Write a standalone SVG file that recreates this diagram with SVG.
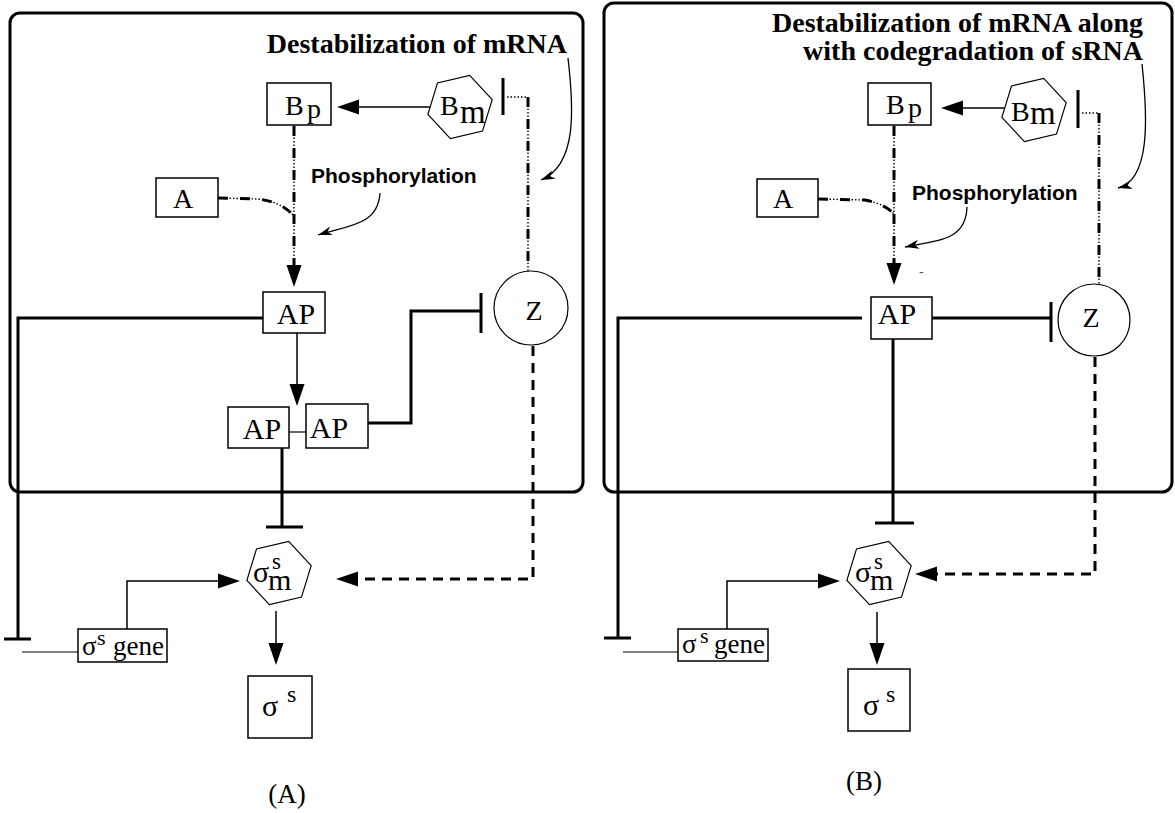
<svg xmlns="http://www.w3.org/2000/svg" width="1175" height="813" viewBox="0 0 1175 813">
<style>
.frame{fill:none;stroke:#000;stroke-width:3}
.box{fill:#fff;stroke:#000;stroke-width:1.5}
.hex{fill:#fff;stroke:#000;stroke-width:1.2}
.circ{fill:#fff;stroke:#000;stroke-width:1.2}
.t{font-family:'Liberation Serif','Times New Roman',serif;fill:#000}
.title{font-family:'Liberation Serif','Times New Roman',serif;font-weight:bold;font-size:28px;fill:#000}
.phos{font-family:'Liberation Sans',Arial,sans-serif;font-weight:bold;font-size:21px;fill:#000}
.thick{fill:none;stroke:#000;stroke-width:3}
.thin{fill:none;stroke:#000;stroke-width:1.5}
.hair{fill:none;stroke:#000;stroke-width:1.2}
.dash{fill:none;stroke:#000;stroke-width:3;stroke-dasharray:10 7}
.ddA{fill:none;stroke:#000;stroke-width:3;stroke-dasharray:10 12}
.ddB{fill:none;stroke:#000;stroke-width:1.4;stroke-dasharray:0 11.5 1.5 2 1.5 2 1.5 2}
.dots{fill:none;stroke:#000;stroke-width:1.4;stroke-dasharray:1.5 2}
.curve{fill:none;stroke:#000;stroke-width:1.3}
</style>
<defs>
<marker id="ah" markerUnits="userSpaceOnUse" markerWidth="22" markerHeight="15" refX="0" refY="7.5" orient="auto" overflow="visible">
<path d="M0,0 L22,7.5 L0,15 z" fill="#000"/>
</marker>
<marker id="barb" markerUnits="userSpaceOnUse" markerWidth="14" markerHeight="9" refX="14" refY="4.5" orient="auto" overflow="visible">
<path d="M0,0 L14,4.5 L0,9 L4,4.5 z" fill="#000"/>
</marker>
</defs>

<g id="frameA"><rect class="frame" x="10" y="13" width="573" height="479" rx="10"/></g>
<g id="frameB"><rect class="frame" x="604" y="3" width="568" height="489" rx="10"/></g>

<g id="connectors">
<!-- Panel A -->
<path class="thin" d="M430,107 L359,107" marker-end="url(#ah)"/>
<path class="thick" d="M503,78 L503,115"/>
<path class="dots" d="M507,97 L527,97"/>
<path class="ddA" d="M528,97 L528,272"/>
<path class="ddB" d="M528,97 L528,272"/>
<path class="curve" d="M568,58 C574,110 577,165 541,180" marker-end="url(#barb)"/>
<path class="ddA" d="M294,126 L294,265" marker-end="url(#ah)"/>
<path class="ddB" d="M294,126 L294,265"/>
<path class="ddA" d="M218,198 L258,199 Q282,202 294,216"/>
<path class="ddB" d="M218,198 L258,199 Q282,202 294,216"/>
<path class="curve" d="M380,193 C378,225 350,225 318,235" marker-end="url(#barb)"/>
<path class="thick" d="M263,318 L18,318 L18,639"/>
<path class="thick" d="M4,639 L31,639"/>
<path class="thin" d="M297,333 L297,384" marker-end="url(#ah)"/>
<path class="hair" d="M289,432 L306,432"/>
<path class="thick" d="M368,423 L411,423 L411,311 L481,311"/>
<path class="thick" d="M481,293 L481,333"/>
<path class="dash" d="M533,346 L533,579 L358,579" marker-end="url(#ah)"/>
<path class="thick" d="M282,448 L282,527"/>
<path class="thick" d="M266,527 L303,527"/>
<path class="thin" d="M127,629 L127,581 L218,581" marker-end="url(#ah)"/>
<path class="hair" d="M78,652 L22,652"/>
<path class="thin" d="M276,611 L276,643" marker-end="url(#ah)"/>
<!-- Panel B -->
<path class="thin" d="M1004,108 L963,108" marker-end="url(#ah)"/>
<path class="thick" d="M1078,90 L1078,128"/>
<path class="dots" d="M1082,113 L1098,113"/>
<path class="ddA" d="M1099,113 L1099,284"/>
<path class="ddB" d="M1099,113 L1099,284"/>
<path class="curve" d="M1142,64 C1148,120 1150,180 1118,188" marker-end="url(#barb)"/>
<path class="ddA" d="M894,126 L894,263" marker-end="url(#ah)"/>
<path class="ddB" d="M894,126 L894,263"/>
<path class="ddA" d="M818,199 L865,200 Q885,204 894,214"/>
<path class="ddB" d="M818,199 L865,200 Q885,204 894,214"/>
<path class="curve" d="M967,207 C966,240 940,240 905,247" marker-end="url(#barb)"/>
<path class="thick" d="M862,318 L618,318 L618,638"/>
<path class="thick" d="M604,638 L631,638"/>
<path class="thick" d="M932,318 L1051,318"/>
<path class="thick" d="M1051,302 L1051,342"/>
<path class="thick" d="M893,339 L893,523"/>
<path class="thick" d="M875,523 L914,523"/>
<path class="dash" d="M1095,357 L1095,574 L937,574" marker-end="url(#ah)"/>
<path class="thin" d="M727,629 L727,581 L818,581" marker-end="url(#ah)"/>
<path class="hair" d="M678,652 L623,652"/>
<path class="thin" d="M877,612 L877,643" marker-end="url(#ah)"/>
</g>

<!-- Panel A nodes -->
<g id="titleA"><text class="title" x="567" y="53" text-anchor="end">Destabilization of mRNA</text></g>
<g id="BpA"><rect class="box" x="267" y="83" width="64" height="42"/><text class="t" x="285" y="115" font-size="28">B<tspan x="307" y="118">p</tspan></text></g>
<g id="BmA"><polygon class="hex" points="492.2,99.6 482.5,131.1 450.4,138.6 427.9,114.4 437.5,82.9 469.7,75.4"/><text class="t" x="440" y="115" font-size="28">B<tspan x="460" y="123" font-size="33">m</tspan></text></g>
<g id="AA"><rect class="box" x="156" y="178" width="62" height="39"/><text class="t" x="183" y="208" font-size="28" text-anchor="middle">A</text></g>
<g id="phosA"><text class="phos" x="311" y="183">Phosphorylation</text></g>
<g id="APA"><rect class="box" x="263" y="292" width="62" height="41"/><text class="t" x="296" y="324" font-size="30" text-anchor="middle">AP</text></g>
<g id="AP1A"><rect class="box" x="228" y="407" width="61" height="41"/><text class="t" x="262" y="439" font-size="30" text-anchor="middle">AP</text></g>
<g id="AP2A"><rect class="box" x="306" y="404" width="62" height="44"/><text class="t" x="329" y="438" font-size="30" text-anchor="middle">AP</text></g>
<g id="ZA"><circle class="circ" cx="531" cy="308" r="37"/><text class="t" x="534" y="320" font-size="28" text-anchor="middle">Z</text></g>
<g id="smA"><polygon class="hex" points="311.2,565.6 301.5,597.1 269.4,604.6 246.9,580.4 256.5,548.9 288.7,541.4"/><text class="t" x="253" y="582" font-size="30">σ<tspan x="272" y="569" font-size="23">s</tspan><tspan x="268" y="590">m</tspan></text></g>
<g id="geneA"><rect class="box" x="78" y="629" width="89" height="33"/><text class="t" x="82" y="655" font-size="27">σ<tspan x="97" y="645" font-size="22">s</tspan><tspan x="113" y="655">gene</tspan></text></g>
<g id="ssA"><rect class="box" x="248" y="676" width="64" height="62"/><text class="t" x="262" y="716" font-size="30">σ<tspan x="287" y="702" font-size="24">s</tspan></text></g>
<g id="labelA"><text class="t" x="287" y="803" font-size="27" text-anchor="middle">(A)</text></g>

<!-- Panel B nodes -->
<g id="titleB"><text class="title" text-anchor="end"><tspan x="1143" y="32">Destabilization of mRNA along</tspan><tspan x="1143" y="60">with codegradation of sRNA</tspan></text></g>
<g id="BpB"><rect class="box" x="868" y="83" width="63" height="42"/><text class="t" x="886" y="114" font-size="28">B<tspan x="908" y="117">p</tspan></text></g>
<g id="BmB"><polygon class="hex" points="1066.2,102.6 1056.5,134.1 1024.4,141.6 1001.9,117.4 1011.5,85.9 1043.7,78.4"/><text class="t" x="1011" y="121" font-size="28">B<tspan x="1030" y="124" font-size="33">m</tspan></text></g>
<g id="AB"><rect class="box" x="757" y="179" width="61" height="38"/><text class="t" x="783" y="208" font-size="28" text-anchor="middle">A</text></g>
<g id="phosB"><text class="phos" x="912" y="200">Phosphorylation</text></g>
<g id="dashB"><text x="919" y="277" font-family="'Liberation Sans',Arial,sans-serif" font-size="14" fill="#555">-</text></g>
<g id="APB"><rect class="box" x="871" y="297" width="61" height="42"/><text class="t" x="897" y="324" font-size="30" text-anchor="middle">AP</text></g>
<g id="ZB"><circle class="circ" cx="1094" cy="320" r="36"/><text class="t" x="1091" y="327" font-size="28" text-anchor="middle">Z</text></g>
<g id="smB"><polygon class="hex" points="911.2,565.6 901.5,597.1 869.4,604.6 846.9,580.4 856.5,548.9 888.7,541.4"/><text class="t" x="855" y="582" font-size="30">σ<tspan x="874" y="569" font-size="23">s</tspan><tspan x="870" y="590">m</tspan></text></g>
<g id="geneB"><rect class="box" x="678" y="629" width="90" height="32"/><text class="t" x="682" y="653" font-size="27">σ<tspan x="700" y="643" font-size="22">s</tspan><tspan x="714" y="653">gene</tspan></text></g>
<g id="ssB"><rect class="box" x="848" y="669" width="62" height="62"/><text class="t" x="863" y="715" font-size="30">σ<tspan x="886" y="702" font-size="24">s</tspan></text></g>
<g id="labelB"><text class="t" x="864" y="790" font-size="27" text-anchor="middle">(B)</text></g>
</svg>
